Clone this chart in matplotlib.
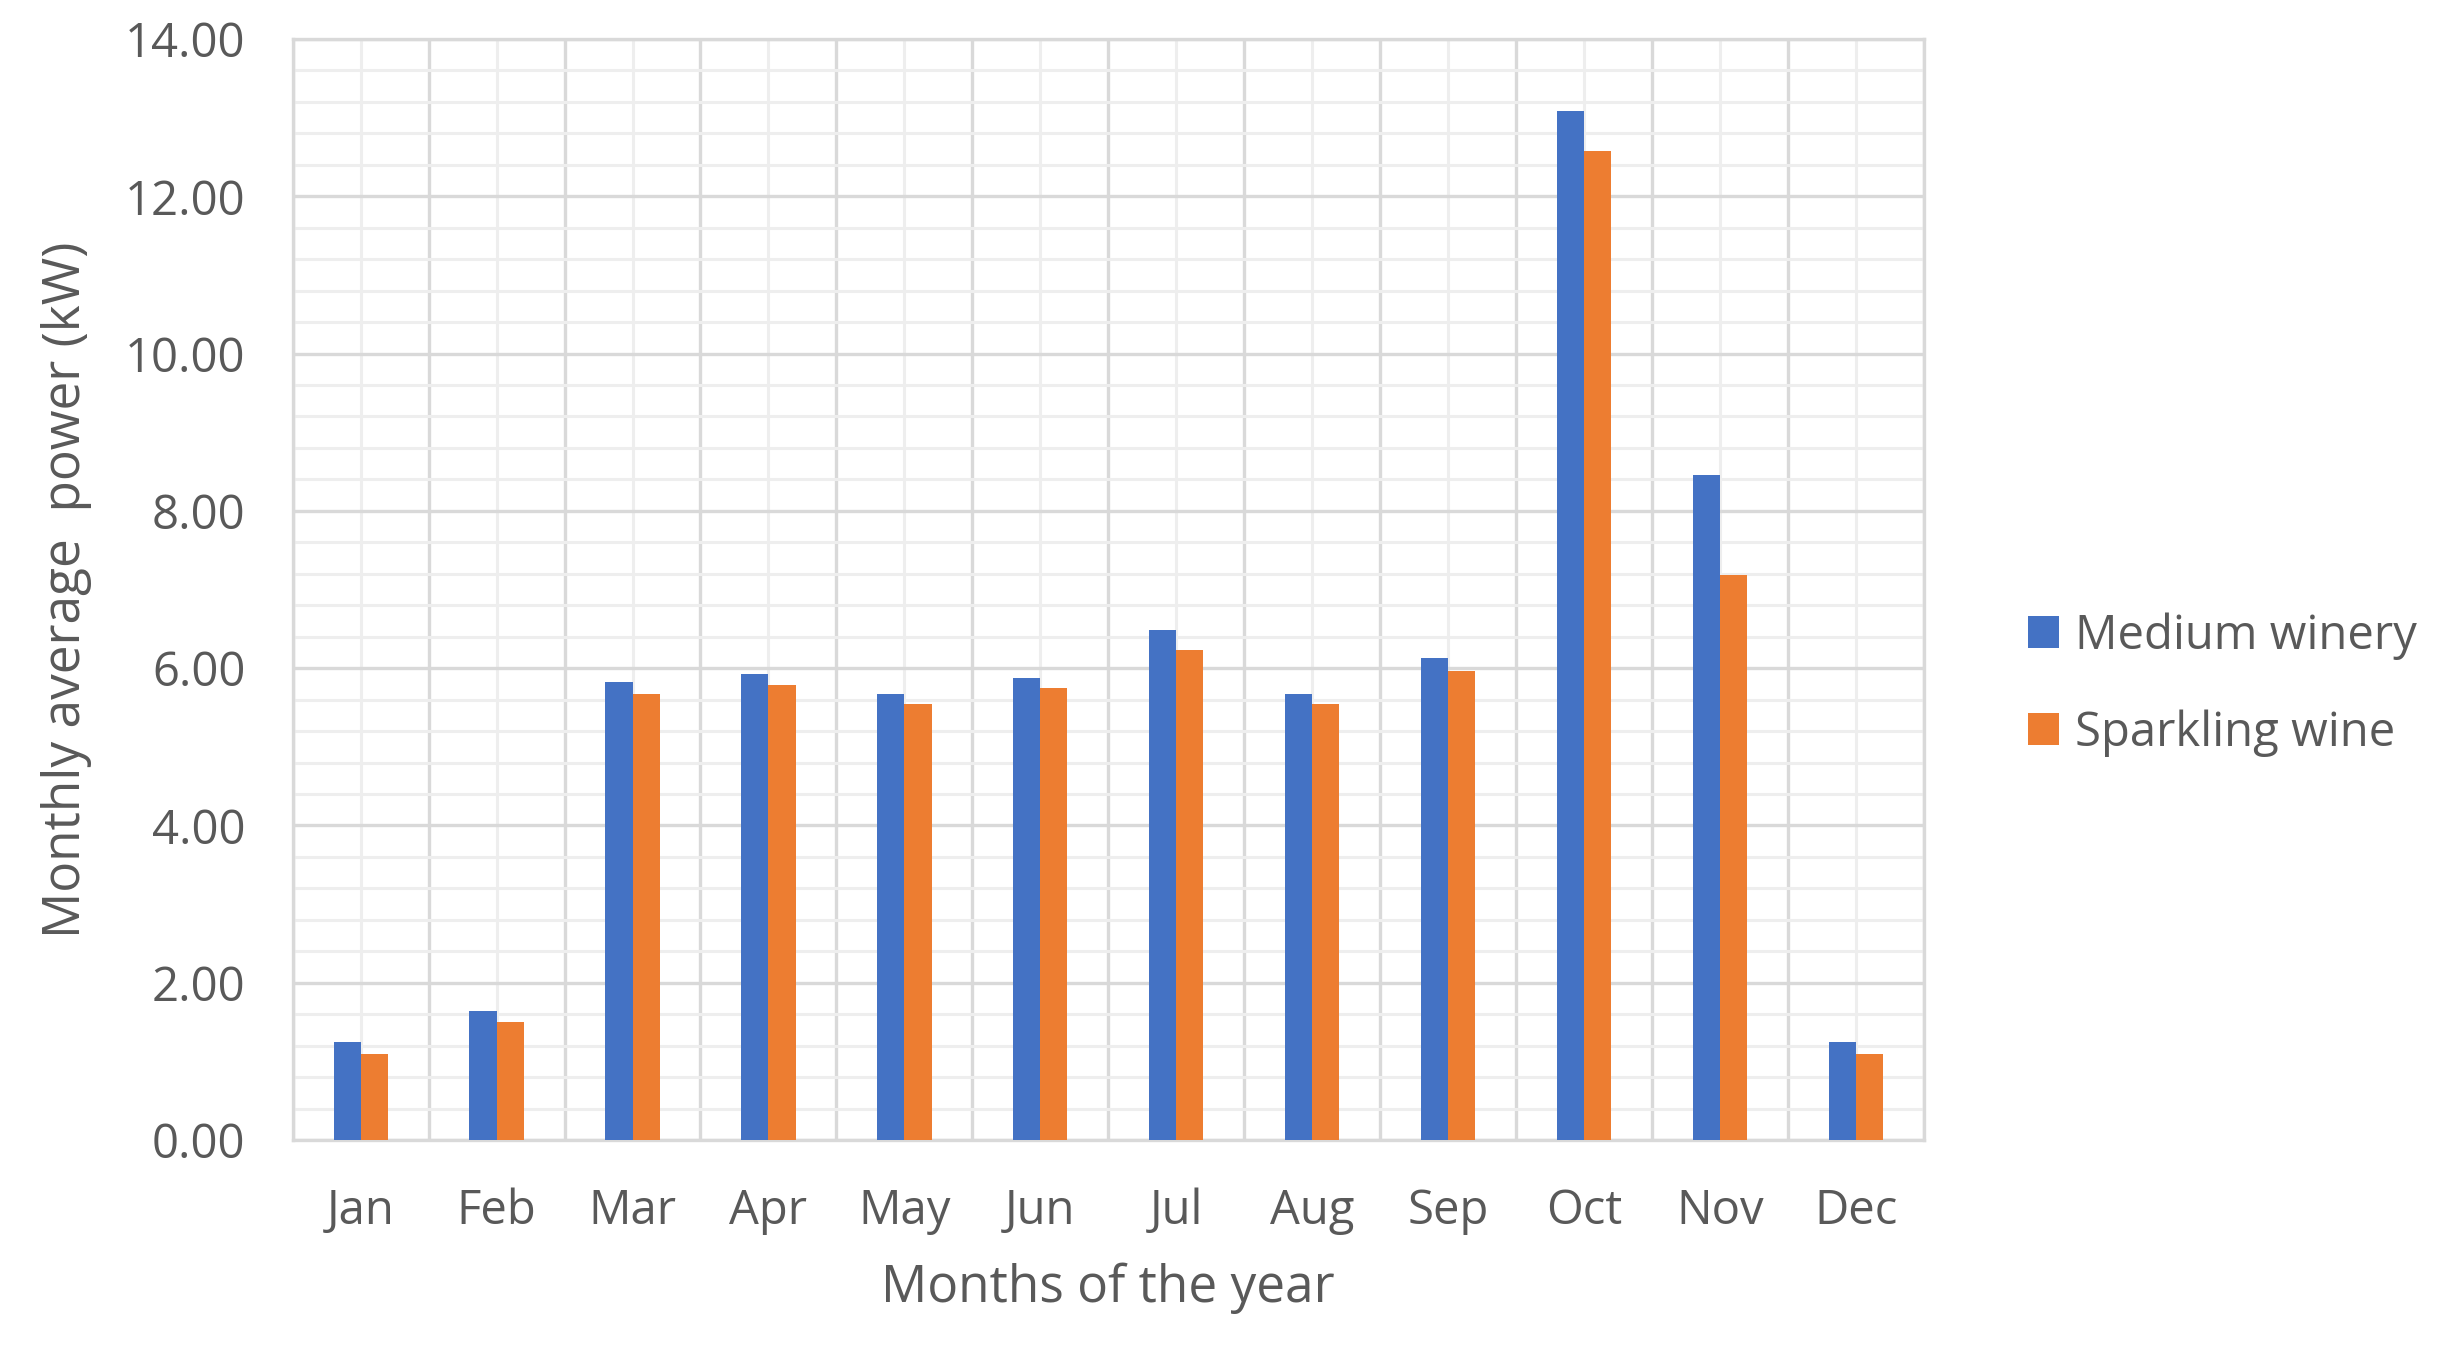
import numpy as np
import matplotlib.pyplot as plt
from matplotlib.ticker import MultipleLocator, FixedLocator

months = ["Jan", "Feb", "Mar", "Apr", "May", "Jun", "Jul", "Aug", "Sep", "Oct", "Nov", "Dec"]
medium_winery = [1.25, 1.64, 5.82, 5.92, 5.67, 5.88, 6.48, 5.67, 6.13, 13.09, 8.46, 1.25]
sparkling_wine = [1.10, 1.50, 5.67, 5.79, 5.54, 5.75, 6.23, 5.54, 5.96, 12.57, 7.18, 1.10]

blue = "#4472C4"
orange = "#ED7D31"
text_col = "#595959"

plt.rcParams["font.family"] = ["Open Sans", "DejaVu Sans"]

fig = plt.figure(figsize=(24.6, 13.45), dpi=100)
ax = fig.add_axes([0.119, 0.1524, 0.663, 0.8186])

x = np.arange(len(months))
w = 0.2
ax.bar(x - w / 2, medium_winery, width=w, color=blue, label="Medium winery", zorder=3)
ax.bar(x + w / 2, sparkling_wine, width=w, color=orange, label="Sparkling wine", zorder=3)

ax.set_xlim(-0.5, len(months) - 0.5)
ax.set_ylim(0, 14)

# y grid: major every 2, minor every 0.4
ax.yaxis.set_major_locator(MultipleLocator(2))
ax.yaxis.set_minor_locator(MultipleLocator(0.4))
ax.yaxis.set_major_formatter(lambda v, p: f"{v:.2f}")

# x grid: darker lines between categories, light lines at category centres
ax.set_xticks(x)
ax.set_xticklabels(months)
ax.xaxis.set_minor_locator(FixedLocator(np.arange(-0.5, len(months), 1.0)))

ax.grid(which="minor", axis="y", color="#EEEEEE", linewidth=2.2, zorder=0)
ax.grid(which="major", axis="x", color="#EEEEEE", linewidth=2.2, zorder=0)
ax.grid(which="major", axis="y", color="#D9D9D9", linewidth=2.4, zorder=1)
ax.grid(which="minor", axis="x", color="#D9D9D9", linewidth=2.4, zorder=1)

for s in ax.spines.values():
    s.set_color("#D9D9D9")
    s.set_linewidth(2.4)

ax.tick_params(which="both", length=0)
ax.tick_params(axis="y", labelsize=34, labelcolor=text_col, pad=34)
ax.tick_params(axis="x", labelsize=34, labelcolor=text_col, pad=34)

ax.set_xlabel("Months of the year", fontsize=37, color=text_col, labelpad=20)
ax.set_ylabel("Monthly average  power (kW)", fontsize=37, color=text_col, labelpad=24)

ax.legend(loc="center left", bbox_to_anchor=(0.807, 0.491), bbox_transform=fig.transFigure,
          frameon=False, fontsize=34, labelcolor=text_col, handlelength=0.66,
          handleheight=0.66, handletextpad=0.35, labelspacing=1.05)

plt.savefig("out.png", dpi=100)
